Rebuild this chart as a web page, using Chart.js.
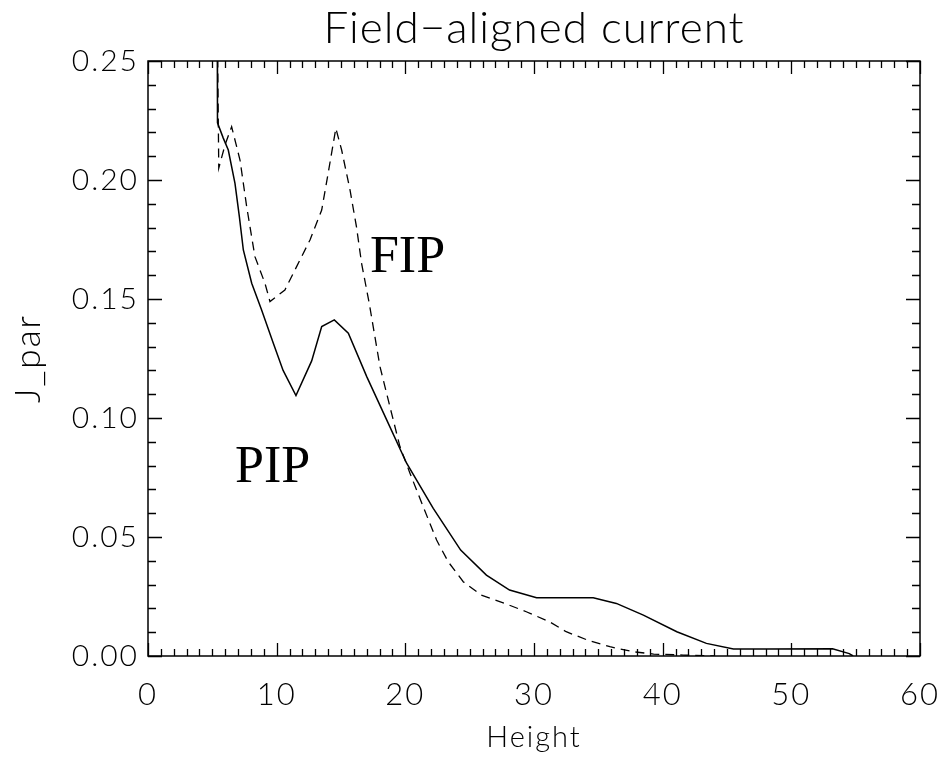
<!DOCTYPE html>
<html>
<head>
<meta charset="utf-8">
<script src="https://cdn.jsdelivr.net/npm/chart.js@4.4.1/dist/chart.umd.min.js"></script>
<style>
  html, body { margin: 0; padding: 0; background: #fff; }
  #wrap { width: 951px; height: 760px; }
</style>
</head>
<body>
<div id="wrap"><canvas id="c" width="951" height="760"></canvas></div>
<script>
// ---- data ----
const pipHeight = [5.38, 5.40, 5.85, 6.24, 6.76, 7.10, 7.41, 8.06, 8.83, 9.74, 10.5, 11.5, 12.72, 13.5, 14.48, 15.57, 17.0, 18.55, 20.1, 22.17, 24.3, 26.3, 28.1, 30.2, 34.6, 36.4, 38.5, 41.1, 43.4, 45.5, 48.1, 53.2, 54.5, 54.8];
const pipJ      = [0.27, 0.224, 0.2176, 0.2126, 0.1986, 0.1846, 0.1706, 0.1566, 0.1454, 0.1314, 0.120, 0.1094, 0.124, 0.1384, 0.1412, 0.1356, 0.1174, 0.0992, 0.081, 0.0620, 0.0445, 0.034, 0.0277, 0.0245, 0.0245, 0.0221, 0.0172, 0.0102, 0.0053, 0.0029, 0.0029, 0.0030, 0.0010, 0.0];

const fipHeight = [5.38, 5.5, 6.0, 6.5, 7.15, 7.67, 8.31, 9.09, 9.48, 10.64, 11.55, 12.59, 13.5, 14.0, 14.6, 15.05, 15.7, 16.2, 16.6, 17.2, 18.03, 18.8, 19.58, 20.36, 21.39, 22.43, 23.33, 24.5, 25.9, 27.87, 29.4, 31.2, 32.5, 34.3, 35.9, 37.7, 39.3, 41.6, 44.0];
const fipJ      = [0.27, 0.205, 0.215, 0.2224, 0.2084, 0.1888, 0.1678, 0.1566, 0.1489, 0.1538, 0.1636, 0.1748, 0.1874, 0.2028, 0.2217, 0.2126, 0.1958, 0.1804, 0.165, 0.148, 0.1216, 0.1048, 0.088, 0.0768, 0.0627, 0.0487, 0.0396, 0.0312, 0.0256, 0.0218, 0.0186, 0.0144, 0.0102, 0.0064, 0.0039, 0.0018, 0.0008, 0.0004, 0.0];

const xTickValues = [0, 10, 20, 30, 40, 50, 60];
const yTickValues = [0.00, 0.05, 0.10, 0.15, 0.20, 0.25];

const labelText = ['FIP', 'PIP'];
const labelHeight = [17.25, 6.76];
const labelJ = [0.1613, 0.0731];

const titleText = 'Field\u2212aligned current';
const xTitle = 'Height';
const yTitle = 'J_par';

// ---- helpers ----
const toPoints = (xs, ys) => xs.map((x, i) => ({ x: x, y: ys[i] }));
const FONT = "Lato, 'DejaVu Sans', sans-serif";
const INK = '#000';

const spacingPlugin = {
  id: 'spacing',
  beforeDraw(chart) { chart.ctx.letterSpacing = '2px'; }
};

const framePlugin = {
  id: 'frame',
  afterDraw(chart) {
    const ctx = chart.ctx;
    const a = chart.chartArea;
    const xs = chart.scales.x, ys = chart.scales.y;
    ctx.save();
    ctx.strokeStyle = INK;
    ctx.lineWidth = 1.5;
    ctx.strokeRect(a.left, a.top, a.right - a.left, a.bottom - a.top);
    ctx.lineWidth = 1.3;
    ctx.beginPath();
    for (let v = xs.min; v <= xs.max + 1e-9; v += 1) {
      const p = Math.round(xs.getPixelForValue(v)) + 0.5;
      const len = (Math.abs(v % 10) < 1e-9) ? 13 : 7;
      ctx.moveTo(p, a.bottom); ctx.lineTo(p, a.bottom - len);
      ctx.moveTo(p, a.top); ctx.lineTo(p, a.top + len);
    }
    for (let i = 0; i <= 25; i++) {
      const v = i * 0.01;
      const p = Math.round(ys.getPixelForValue(v)) + 0.5;
      const len = (i % 5 === 0) ? 14 : 8;
      ctx.moveTo(a.left, p); ctx.lineTo(a.left + len, p);
      ctx.moveTo(a.right, p); ctx.lineTo(a.right - len, p);
    }
    ctx.stroke();
    // title, centred over the plot box
    ctx.letterSpacing = '1px';
    ctx.fillStyle = INK;
    ctx.font = "300 44px " + FONT;
    ctx.textAlign = 'center';
    ctx.textBaseline = 'alphabetic';
    ctx.fillText(titleText, (a.left + a.right) / 2, 43);
    // annotations
    ctx.letterSpacing = '0px';
    ctx.font = "52px 'Liberation Serif', 'Times New Roman', serif";
    ctx.textAlign = 'left';
    labelText.forEach((t, i) => {
      ctx.fillText(t, xs.getPixelForValue(labelHeight[i]), ys.getPixelForValue(labelJ[i]));
    });
    ctx.restore();
  }
};

new Chart(document.getElementById('c'), {
  type: 'line',
  data: {
    datasets: [
      {
        label: 'PIP',
        data: toPoints(pipHeight, pipJ),
        borderColor: '#000',
        borderWidth: 1.5,
        pointRadius: 0,
        tension: 0,
        fill: false
      },
      {
        label: 'FIP',
        data: toPoints(fipHeight, fipJ),
        borderColor: '#000',
        borderWidth: 1.3,
        borderDash: [9, 6],
        pointRadius: 0,
        tension: 0,
        fill: false
      }
    ]
  },
  options: {
    responsive: false,
    animation: false,
    events: [],
    layout: { padding: { left: 0, right: 31, top: 61, bottom: 0 } },
    plugins: {
      legend: { display: false },
      tooltip: { enabled: false },
      title: { display: false }
    },
    scales: {
      x: {
        type: 'linear',
        min: 0, max: 60,
        afterFit: (s) => { s.height = 104; s.paddingLeft = 0; s.paddingRight = 0; },
        afterBuildTicks: (s) => { s.ticks = xTickValues.map(v => ({ value: v })); },
        grid: { display: false, drawTicks: false },
        border: { display: false },
        ticks: {
          color: INK,
          font: { family: FONT, size: 31, weight: 300 },
          padding: 20,
          maxRotation: 0,
          callback: (v) => String(v)
        },
        title: {
          display: true,
          text: xTitle,
          color: INK,
          font: { family: FONT, size: 29, weight: 300 },
          padding: { top: 0, bottom: 5 }
        }
      },
      y: {
        type: 'linear',
        min: 0, max: 0.25,
        afterFit: (s) => { s.width = 148; s.paddingTop = 0; s.paddingBottom = 0; },
        afterBuildTicks: (s) => { s.ticks = yTickValues.map(v => ({ value: v })); },
        grid: { display: false, drawTicks: false },
        border: { display: false },
        ticks: {
          color: INK,
          font: { family: FONT, size: 30, weight: 300 },
          padding: 9,
          callback: (v) => Number(v).toFixed(2)
        },
        title: {
          display: true,
          text: yTitle,
          color: INK,
          font: { family: FONT, size: 35, weight: 300 },
          padding: { top: 8, bottom: 0 }
        }
      }
    }
  },
  plugins: [spacingPlugin, framePlugin]
});
</script>
</body>
</html>
